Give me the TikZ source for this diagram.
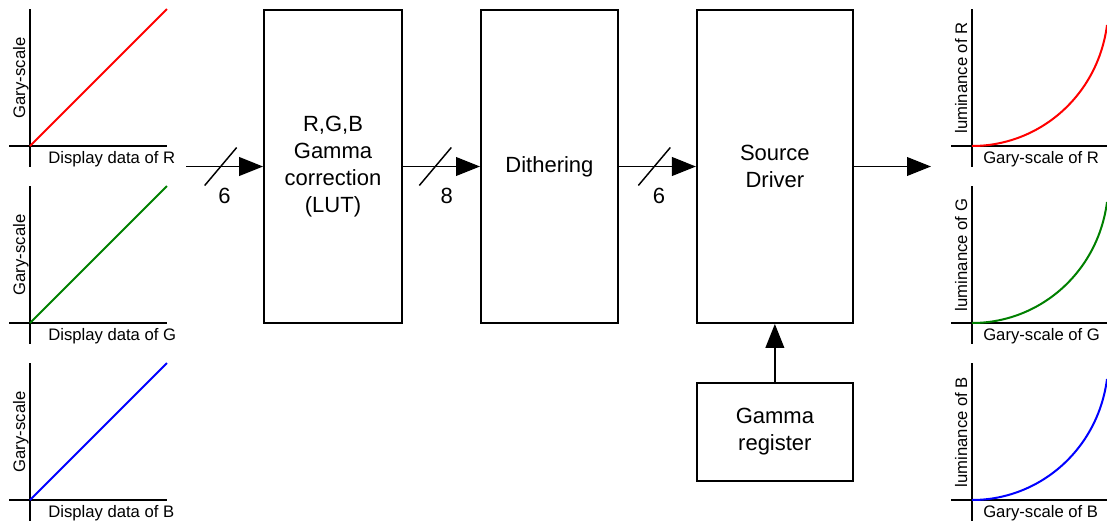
\documentclass[tikz,border=0pt]{standalone}
\usepackage{fontspec}
\setmainfont{Liberation Sans}
\usetikzlibrary{arrows.meta, positioning, calc}
\definecolor{curveR}{RGB}{255,0,0}
\definecolor{curveG}{RGB}{0,128,0}
\definecolor{curveB}{RGB}{0,0,255}
\newcommand{\blockfont}{\fontsize{16.5}{20.25}\selectfont}
\newcommand{\axisfont}{\fontsize{12.5}{15}\selectfont}
\tikzset{
  % plain square block of the data path
  block/.style={
    draw, line width=1.4pt, align=center, inner sep=0pt,
    font=\blockfont, text=black
  },
  % arrows and the bus-width marks
  flow/.style={-{Triangle[length=18pt,width=14pt]}, line width=1.4pt},
  busmark/.style={line width=1.1pt},
  buslabel/.style={font=\blockfont, inner sep=0pt},
  % the little transfer plots
  axis/.style={line width=1.5pt},
  curve/.style={line width=1.5pt},
  xlabel/.style={font=\axisfont, anchor=base west, inner sep=0pt},
  ylabel/.style={font=\axisfont, anchor=base, rotate=90, inner sep=0pt},
}

\begin{document}
\begin{tikzpicture}[x=0.75pt, y=-0.75pt]
\useasboundingbox (0,0) rectangle (1107,522);

% ------------------------------- input plots -------------------------------
\draw[axis] (30,9) -- (30,167);
\draw[axis] (9,146) -- (167,146);
\draw[curve, curveR] (30,146) -- (167,9);
\node[ylabel] (inyr) at (25,78) {Gary-scale};
\node[xlabel] (inxr) at (48,163) {Display data of R};

\draw[axis] (30,186) -- (30,344);
\draw[axis] (9,323) -- (167,323);
\draw[curve, curveG] (30,323) -- (167,186);
\node[ylabel] (inyg) at (25,255) {Gary-scale};
\node[xlabel] (inxg) at (48,340) {Display data of G};

\draw[axis] (30,363) -- (30,521);
\draw[axis] (9,500) -- (167,500);
\draw[curve, curveB] (30,500) -- (167,363);
\node[ylabel] (inyb) at (25,432) {Gary-scale};
\node[xlabel] (inxb) at (48,517) {Display data of B};

% ------------------------------- the blocks --------------------------------
\node[block, minimum width=103.5pt, minimum height=234.75pt] (lut) at (333,166.5)
      {R,G,B\\Gamma\\correction\\(LUT)};
\node[block, minimum width=102.75pt, minimum height=234.75pt, right=57.8pt of lut] (dith)
      {Dithering};
\node[block, minimum width=117pt, minimum height=234.75pt, right=57.8pt of dith] (src)
      {Source\\Driver};
\node[block, minimum width=117pt, minimum height=73.5pt, below=43.6pt of src] (reg)
      {Gamma\\register};

% ------------------------------- connectors --------------------------------
\coordinate (in) at (186,166.5);
\coordinate (out) at (931,166.5);
\draw[flow] (in) -- (lut);
\draw[flow] (lut) -- (dith);
\draw[flow] (dith) -- (src);
\draw[flow] (src) -- (out);
\draw[flow] (reg) -- (src);

% bus widths
\draw[busmark] ($(in)!0.45!(lut.west)$) +(-16,19) -- +(16,-19);
\draw[busmark] ($(lut.east)!0.42!(dith.west)$) +(-16,19) -- +(16,-19);
\draw[busmark] ($(dith.east)!0.46!(src.west)$) +(-16,19) -- +(16,-19);
\node[buslabel] (w1) at ($(in)!0.5!(lut.west)+(0,29)$) {6};
\node[buslabel] (w2) at ($(lut.east)!0.57!(dith.west)+(0,29)$) {8};
\node[buslabel] (w3) at ($(dith.east)!0.52!(src.west)+(0,29)$) {6};

% ------------------------------- output plots ------------------------------
\draw[axis] (972,9) -- (972,167);
\draw[axis] (951,146) -- (1107,146);
\draw[curve, curveR] (972,146) .. controls (1040,146) and (1098,95) .. (1107,25);
\node[ylabel] (outyr) at (967,78) {luminance of R};
\node[xlabel] (outxr) at (983,163) {Gary-scale of R};

\draw[axis] (972,186) -- (972,344);
\draw[axis] (951,323) -- (1107,323);
\draw[curve, curveG] (972,323) .. controls (1040,323) and (1098,272) .. (1107,202);
\node[ylabel] (outyg) at (967,255) {luminance of G};
\node[xlabel] (outxg) at (983,340) {Gary-scale of G};

\draw[axis] (972,363) -- (972,521);
\draw[axis] (951,500) -- (1107,500);
\draw[curve, curveB] (972,500) .. controls (1040,500) and (1098,449) .. (1107,379);
\node[ylabel] (outyb) at (967,432) {luminance of B};
\node[xlabel] (outxb) at (983,517) {Gary-scale of B};

\end{tikzpicture}
\end{document}
